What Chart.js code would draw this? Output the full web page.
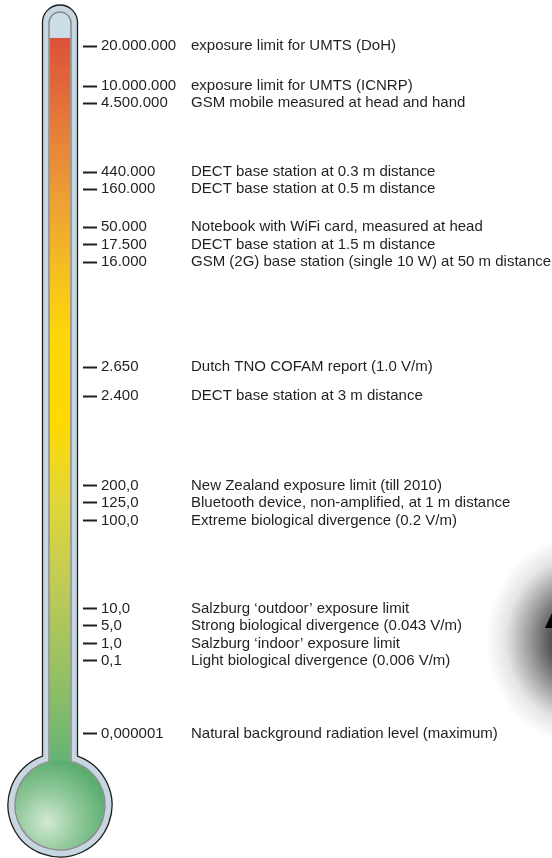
<!DOCTYPE html>
<html>
<head>
<meta charset="utf-8">
<script src="https://cdn.jsdelivr.net/npm/chart.js@4"></script>
<style>
  html, body { margin: 0; padding: 0; background: #fff; }
  #wrap { width: 552px; height: 858px; }
</style>
</head>
<body>
<div id="wrap"><canvas id="thermo"></canvas></div>
<script>
// readings on the thermometer, top to bottom
const readings = [
    "20.000.000", "10.000.000", "4.500.000",
    "440.000", "160.000",
    "50.000", "17.500", "16.000",
    "2.650", "2.400",
    "200,0", "125,0", "100,0",
    "10,0", "5,0", "1,0", "0,1",
    "0,000001",
];

const sources = [
    "exposure limit for UMTS (DoH)",
    "exposure limit for UMTS (ICNRP)",
    "GSM mobile measured at head and hand",
    "DECT base station at 0.3 m distance",
    "DECT base station at 0.5 m distance",
    "Notebook with WiFi card, measured at head",
    "DECT base station at 1.5 m distance",
    "GSM (2G) base station (single 10 W) at 50 m distance",
    "Dutch TNO COFAM report (1.0 V/m)",
    "DECT base station at 3 m distance",
    "New Zealand exposure limit (till 2010)",
    "Bluetooth device, non-amplified, at 1 m distance",
    "Extreme biological divergence (0.2 V/m)",
    "Salzburg \u2018outdoor\u2019 exposure limit",
    "Strong biological divergence (0.043 V/m)",
    "Salzburg \u2018indoor\u2019 exposure limit",
    "Light biological divergence (0.006 V/m)",
    "Natural background radiation level (maximum)",
];

// where each reading sits on the (schematic) thermometer scale, 0..100
const levels = [
    100, 94.2, 91.7,
    81.7, 79.2,
    73.7, 71.1, 68.6,
    53.3, 49.1,
    36.1, 33.6, 31.0,
    18.2, 15.7, 13.1, 10.6,
    0,
];

const mercury = [101.2];
const scaleMin = -10.4;
const scaleMax = 101.2;

const textColor = "#231f20";
const font = { family: "'Liberation Sans', Arial, sans-serif", size: 15 };

function mercuryFill(context) {
    const area = context.chart.chartArea;
    if (!area) return "#ffd900";
    const g = context.chart.ctx.createLinearGradient(0, area.top, 0, area.bottom);
    g.addColorStop(0, "#dc5139");
    g.addColorStop(0.1, "#e4763a");
    g.addColorStop(0.2, "#ec9c36");
    g.addColorStop(0.3, "#f5bd22");
    g.addColorStop(0.38, "#fdd50a");
    g.addColorStop(0.5, "#ffd900");
    g.addColorStop(0.6, "#e2d738");
    g.addColorStop(0.72, "#bdca57");
    g.addColorStop(0.85, "#8ebe66");
    g.addColorStop(0.94, "#66b475");
    g.addColorStop(1, "#5cae70");
    return g;
}

function tubePath(ctx, cx, top, half, cy, r) {
    const dy = Math.sqrt(r * r - half * half);
    ctx.beginPath();
    ctx.moveTo(cx - half, cy - dy);
    ctx.lineTo(cx - half, top + half);
    ctx.arc(cx, top + half, half, Math.PI, 0);
    ctx.lineTo(cx + half, cy - dy);
    ctx.arc(cx, cy, r, Math.atan2(-dy, half), Math.atan2(-dy, -half) + Math.PI * 2);
    ctx.closePath();
}

// the glass tube, bulb and the shadow at the right edge
const glass = {
    id: "glass",
    beforeDraw(chart) {
        const ctx = chart.ctx;
        const w = chart.width;
        ctx.save();
        ctx.translate(w + 32, 640);
        ctx.scale(1, 1.08);
        const g = ctx.createRadialGradient(0, 0, 0, 0, 0, 98);
        g.addColorStop(0, "rgba(0,0,0,0.95)");
        g.addColorStop(0.3, "rgba(0,0,0,0.72)");
        g.addColorStop(0.55, "rgba(0,0,0,0.4)");
        g.addColorStop(0.8, "rgba(0,0,0,0.1)");
        g.addColorStop(1, "rgba(0,0,0,0)");
        ctx.fillStyle = g;
        ctx.fillRect(-110, -110, 110, 220);
        ctx.restore();
        ctx.save();
        ctx.fillStyle = "#000";
        ctx.beginPath();
        ctx.moveTo(w, 613);
        ctx.lineTo(w - 7, 628);
        ctx.lineTo(w, 628);
        ctx.closePath();
        ctx.fill();
        ctx.restore();
    },
    beforeDatasetsDraw(chart) {
        const ctx = chart.ctx;
        const bar = chart.getDatasetMeta(0).data[0];
        const area = chart.chartArea;
        const cx = bar.x, half = bar.width / 2;
        ctx.save();
        tubePath(ctx, cx, area.top - 33, half + 7.5, area.bottom, 52);
        ctx.fillStyle = "#c7d7e1";
        ctx.fill();
        ctx.lineWidth = 1.3;
        ctx.strokeStyle = "#1e1e1e";
        ctx.stroke();
        tubePath(ctx, cx, area.top - 26, half + 1, area.bottom, 45);
        ctx.fillStyle = "#cddde6";
        ctx.fill();
        ctx.restore();
    },
    afterDatasetsDraw(chart) {
        const ctx = chart.ctx;
        const bar = chart.getDatasetMeta(0).data[0];
        const area = chart.chartArea;
        const cx = bar.x, half = bar.width / 2;
        const cy = area.bottom;
        ctx.save();
        const g = ctx.createRadialGradient(cx - 13, cy + 17, 0, cx - 13, cy + 17, 62);
        g.addColorStop(0, "#d3e9d5");
        g.addColorStop(0.45, "#97cc9f");
        g.addColorStop(1, "#5aad6f");
        ctx.beginPath();
        ctx.arc(cx, cy, 44.5, 0, Math.PI * 2);
        ctx.fillStyle = g;
        ctx.fill();
        tubePath(ctx, cx, area.top - 26, half + 1, cy, 45);
        ctx.lineWidth = 1.5;
        ctx.strokeStyle = "#8c8c8c";
        ctx.stroke();
        ctx.restore();
    },
};

function levelTicks(scale) {
    scale.ticks = levels.map((v) => ({ value: v }));
}

const chart = new Chart(document.getElementById("thermo"), {
    type: "bar",
    data: {
        labels: ["mercury"],
        datasets: [
            {
                data: mercury,
                backgroundColor: mercuryFill,
                borderWidth: 0,
                barThickness: 20,
                base: scaleMin,
                yAxisID: "y",
            },
        ],
    },
    options: {
        responsive: true,
        maintainAspectRatio: false,
        animation: false,
        layout: { padding: { top: 38, bottom: 53, left: 37, right: 0 } },
        plugins: {
            legend: { display: false },
            tooltip: { enabled: false },
        },
        scales: {
            x: { display: false },
            y: {
                position: "right",
                min: scaleMin,
                max: scaleMax,
                afterBuildTicks: levelTicks,
                afterFit(scale) {
                    scale.width = 108;
                },
                border: { display: false },
                grid: {
                    drawOnChartArea: false,
                    drawTicks: true,
                    tickLength: 14,
                    tickWidth: 2,
                    tickColor: textColor,
                },
                ticks: {
                    autoSkip: false,
                    padding: 4,
                    color: textColor,
                    font: font,
                    callback: (v, i) => readings[i],
                },
            },
            y2: {
                position: "right",
                min: scaleMin,
                max: scaleMax,
                afterBuildTicks: levelTicks,
                afterFit(scale) {
                    scale.width = 361;
                },
                border: { display: false },
                grid: { display: false, drawTicks: false },
                ticks: {
                    autoSkip: false,
                    padding: 0,
                    color: textColor,
                    font: font,
                    callback: (v, i) => sources[i],
                },
            },
        },
    },
    plugins: [glass],
});
</script>
</body>
</html>
